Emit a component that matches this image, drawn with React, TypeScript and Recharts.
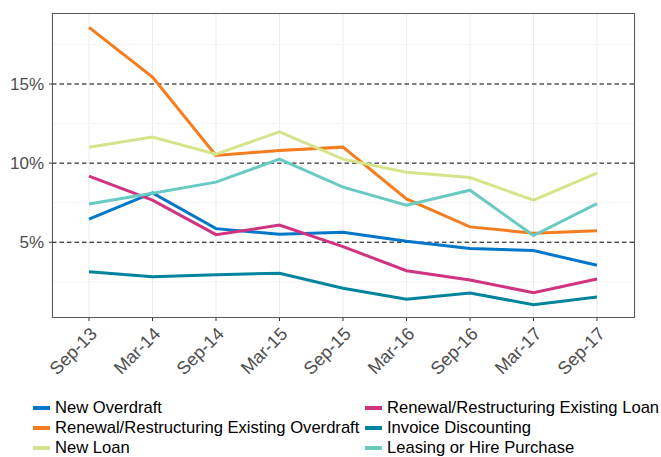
import { LineChart, Line, XAxis, YAxis, CartesianGrid, ReferenceLine } from "recharts";

const periods = ["Sep-13", "Mar-14", "Sep-14", "Mar-15", "Sep-15", "Mar-16", "Sep-16", "Mar-17", "Sep-17"];

const newOverdraft = [6.46, 8.12, 5.86, 5.5, 5.63, 5.06, 4.6, 4.47, 3.54];
const renewalOverdraft = [18.58, 15.44, 10.48, 10.8, 11.01, 7.74, 5.97, 5.57, 5.72];
const newLoan = [11.01, 11.65, 10.57, 11.98, 10.25, 9.43, 9.09, 7.66, 9.37];
const renewalLoan = [9.18, 7.66, 5.48, 6.08, 4.72, 3.2, 2.61, 1.81, 2.68];
const invoiceDiscounting = [3.14, 2.82, 2.95, 3.04, 2.09, 1.39, 1.79, 1.05, 1.54];
const leasing = [7.42, 8.1, 8.8, 10.25, 8.48, 7.34, 8.29, 5.42, 7.44];

const majorBreaks = [5, 10, 15];
const minorBreaks = [2.5, 7.5, 12.5, 17.5];

const series = [
  { key: "newOverdraft", name: "New Overdraft", color: "#0077c8", values: newOverdraft },
  { key: "renewalOverdraft", name: "Renewal/Restructuring Existing Overdraft", color: "#f47d20", values: renewalOverdraft },
  { key: "newLoan", name: "New Loan", color: "#d5e38a", values: newLoan },
  { key: "renewalLoan", name: "Renewal/Restructuring Existing Loan", color: "#d0337f", values: renewalLoan },
  { key: "invoiceDiscounting", name: "Invoice Discounting", color: "#00849e", values: invoiceDiscounting },
  { key: "leasing", name: "Leasing or Hire Purchase", color: "#68cac2", values: leasing },
];

const data = periods.map((period, i) => {
  const row: Record<string, string | number> = { period };
  series.forEach((s) => {
    row[s.key] = s.values[i];
  });
  return row;
});

const font = '"Liberation Sans", Arial, sans-serif';

// rotated x labels, right end sits just below/right of the tick
const XTick = ({ x, y, payload }: any) => {
  const ax = x + 9;
  const ay = y + 14;
  return (
    <text
      x={ax}
      y={ay}
      transform={`rotate(-45 ${ax} ${ay})`}
      textAnchor="end"
      fontSize={18}
      fontFamily={font}
      fill="#4d4d4d"
    >
      {payload.value}
    </text>
  );
};

export default function App() {
  return (
    <div style={{ position: "absolute", left: 0, top: 0, width: 661, height: 457, background: "#fff", fontFamily: font }}>
      <LineChart width={661} height={457} data={data} margin={{ top: 13, right: 26, bottom: 79, left: 0 }}>
        <CartesianGrid horizontal={false} stroke="#ebebeb" strokeWidth={1} />
        {minorBreaks.map((v) => (
          <ReferenceLine key={`minor-${v}`} y={v} stroke="#f4f4f4" strokeWidth={1} />
        ))}
        {majorBreaks.map((v) => (
          <ReferenceLine key={`major-${v}`} y={v} stroke="#000" strokeWidth={1} strokeDasharray="4.5 3" />
        ))}
        <XAxis
          dataKey="period"
          padding={{ left: 37, right: 38 }}
          axisLine={false}
          tickLine={{ stroke: "#333" }}
          tickSize={3}
          tickMargin={0}
          height={60}
          interval={0}
          tick={<XTick />}
        />
        <YAxis
          type="number"
          domain={[0.21, 19.49]}
          ticks={majorBreaks}
          tickFormatter={(v: number) => `${v}%`}
          width={52}
          axisLine={false}
          tickLine={{ stroke: "#333" }}
          tickSize={3}
          tickMargin={5}
          tick={{ fontSize: 17, fill: "#4d4d4d", fontFamily: font }}
          allowDataOverflow
        />
        {series.map((s) => (
          <Line
            key={s.key}
            dataKey={s.key}
            name={s.name}
            stroke={s.color}
            strokeWidth={3}
            dot={false}
            activeDot={false}
            isAnimationActive={false}
          />
        ))}
      </LineChart>
      <div
        style={{
          position: "absolute",
          left: 52,
          top: 13,
          width: 583,
          height: 305,
          border: "1px solid #595959",
          boxSizing: "border-box",
          pointerEvents: "none",
        }}
      />
      {series.map((s, i) => {
        const col = Math.floor(i / 3);
        const row = i % 3;
        return (
          <div
            key={s.key}
            style={{
              position: "absolute",
              left: col ? 365 : 33,
              top: 398 + row * 20,
              height: 20,
              display: "flex",
              alignItems: "center",
              whiteSpace: "nowrap",
              fontSize: 16.6,
              color: "#000",
            }}
          >
            <span style={{ display: "inline-block", width: 17, height: 4, background: s.color, marginRight: 5 }} />
            <span>{s.name}</span>
          </div>
        );
      })}
    </div>
  );
}
